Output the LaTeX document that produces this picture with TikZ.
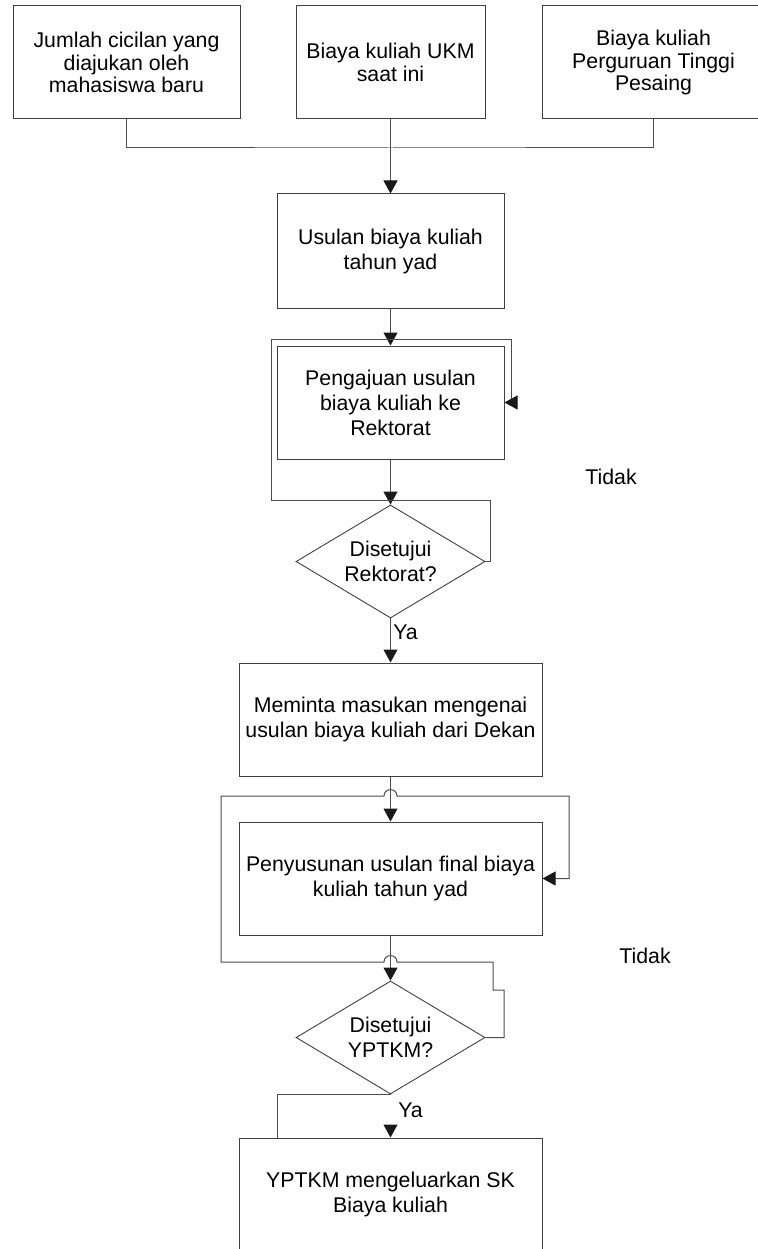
\documentclass[tikz,border=0pt]{standalone}
\usepackage{fontspec}
\setmainfont{Liberation Sans}
\usetikzlibrary{arrows.meta,shapes.geometric}

\tikzset{
  kotak/.style={draw=black!75, line width=1pt, align=center, inner sep=2pt},
  atas/.style={kotak, minimum height=113pt, font=\fontsize{21.3}{22.5}\selectfont},
  belah/.style={diamond, draw=black!75, line width=0.9pt, align=center, inner sep=0pt,
    shape aspect=1.67, minimum width=189pt, minimum height=113pt},
  garis/.style={draw=black!70, line width=1pt},
  panah/.style={garis, -{Triangle[length=13pt,width=14pt,color=black!90]}},
}

\begin{document}
\begin{tikzpicture}[x=1pt,y=-1pt,font=\fontsize{21.3}{25}\selectfont]
\useasboundingbox (0,0) rectangle (757,1249);
% masukan
\node[atas,minimum width=227pt] (jumlah) at (126.5,62.5) {Jumlah cicilan yang\\diajukan oleh\\mahasiswa baru};
\node[atas,minimum width=189pt] (ukm) at (390.5,62.5) {Biaya kuliah UKM\\saat ini};
\node[atas,minimum width=223pt] (pesaing) at (653.5,62.5) {Biaya kuliah\\Perguruan Tinggi\\Pesaing};
\coordinate (gabung) at (390.5,148);
\draw[garis] (jumlah.south) |- (gabung) -| (pesaing.south);
% proses
\node[kotak,minimum width=227pt,minimum height=114pt] (usulan) at (390.5,251) {Usulan biaya kuliah\\tahun yad};
\node[kotak,minimum width=227pt,minimum height=113pt] (aju) at (390.5,402.5) {Pengajuan usulan\\biaya kuliah ke\\Rektorat};
\node[belah] (rektor) at (390.5,561.5) {Disetujui\\Rektorat?};
\node[kotak,minimum width=303pt,minimum height=113pt] (minta) at (390.5,719.5) {Meminta masukan mengenai\\usulan biaya kuliah dari Dekan};
\node[kotak,minimum width=303pt,minimum height=113pt] (susun) at (390.5,878.5) {Penyusunan usulan final biaya\\kuliah tahun yad};
\node[belah] (yayasan) at (390.5,1037.5) {Disetujui\\YPTKM?};
\node[kotak,minimum width=303pt,minimum height=113pt] (sk) at (390.5,1194.5) {YPTKM mengeluarkan SK\\Biaya kuliah};
% label
\node (tidak1) at (611,477) {Tidak};
\node (tidak2) at (645,956) {Tidak};
\node (ya1) at (405.5,632) {Ya};
\node (ya2) at (410.5,1110) {Ya};
% panah
\draw[panah] (ukm.south) -- (usulan.north);
\draw[panah] (usulan.south) -- (aju.north);
\draw[panah] (aju.south) -- (rektor.north);
\draw[panah] (rektor.east) -- ++(5,0) |- (271,500) |- (511,339) |- (aju.east);
\draw[panah] (rektor.south) -- (minta.north);
\draw[panah] (minta.south) -- (susun.north);
\draw[panah] (susun.south) -- (yayasan.north);
\draw[panah] (yayasan.east) -- (504,1037.5) -- (504,990) -- (493,990) -- (493,962)
  -- (397,962) .. controls (397,953.5) and (384,953.5) .. (384,962) -- (221,962)
  -- (221,796) -- (384,796) .. controls (384,787.5) and (397,787.5) .. (397,796)
  -- (569,796) |- (susun.east);
\coordinate (belok) at (277,1138);
\coordinate (ujung) at (390.5,1125);
\draw[garis] (yayasan.south) -| (belok);
\draw[panah] (ujung) -- (sk.north);
\end{tikzpicture}
\end{document}
